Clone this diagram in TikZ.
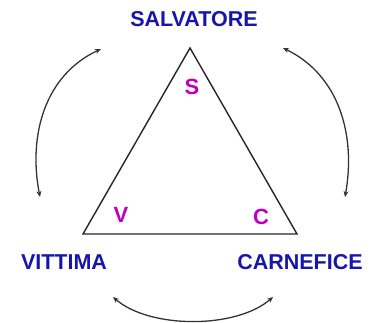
\documentclass[tikz,border=0pt]{standalone}
\usepackage{fontspec}
\setmainfont{Liberation Sans}
\usetikzlibrary{arrows.meta}
\definecolor{lblblue}{RGB}{22,22,170}
\definecolor{lblmag}{RGB}{190,0,190}
\begin{document}
\begin{tikzpicture}[x=1pt,y=-1pt,
  role/.style={inner sep=0pt,text=lblblue,font=\fontsize{21.5}{24}\selectfont\bfseries},
  corner/.style={inner sep=0pt,text=lblmag,font=\fontsize{22}{24}\selectfont\bfseries},
  tri/.style={draw=black!85,line width=1.4pt,line join=miter},
  cycle arrow/.style={draw=black!80,line width=1.3pt,{Stealth[length=6pt,width=5pt]}-{Stealth[length=6pt,width=5pt]}}]
\useasboundingbox (0,0) rectangle (377,323);
% triangle
\coordinate (A) at (190,48);
\coordinate (B) at (83,234);
\coordinate (Cc) at (297,234);
\draw[tri] (A) -- (B) -- (Cc) -- cycle;
% labels
\node[role] (salv) at (194,19) {SALVATORE};
\node[role] (vitt) at (64,262.5) {VITTIMA};
\node[role] (carn) at (300,262.5) {CARNEFICE};
\node[corner] (s) at (192,87) {S};
\node[corner] (v) at (121,215) {V};
\node[corner] (c) at (261,217) {C};
% arrow end points
\coordinate (l1) at (40,197);
\coordinate (l2) at (101,49);
\coordinate (r1) at (283,48);
\coordinate (r2) at (345,197);
\coordinate (b1) at (113,297);
\coordinate (b2) at (273,297);
\draw[cycle arrow] (l1) .. controls (28,135) and (45,75) .. (l2);
\draw[cycle arrow] (r1) .. controls (339,75) and (356,135) .. (r2);
\draw[cycle arrow] (b1) .. controls (150,329) and (236,329) .. (b2);
\end{tikzpicture}
\end{document}
